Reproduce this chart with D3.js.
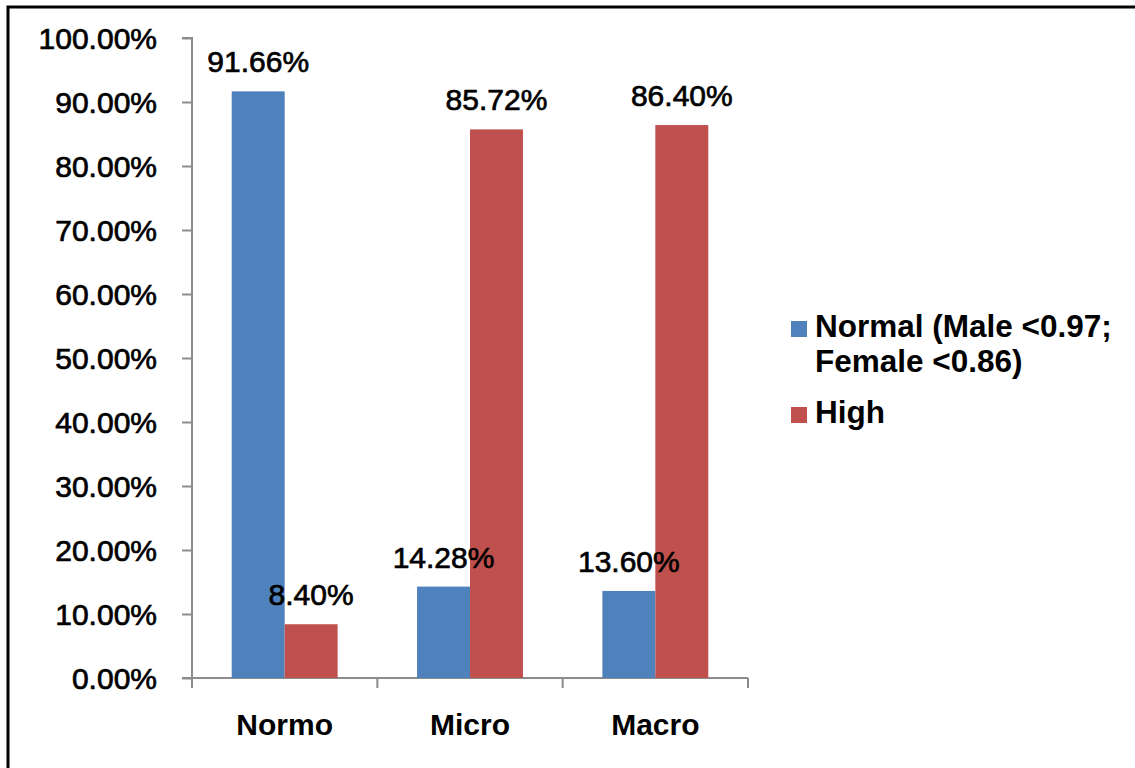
<!DOCTYPE html>
<html>
<head>
<meta charset="utf-8">
<script src="https://cdn.jsdelivr.net/npm/d3@7"></script>
<style>
  html, body { margin: 0; padding: 0; background: #fff; }
  svg { display: block; }
  text { font-family: "Liberation Sans", Arial, sans-serif; fill: #000; }
</style>
</head>
<body>
<svg id="chart" width="1135" height="768"></svg>
<script>
const categories = ["Normo", "Micro", "Macro"];
const seriesNames = ["Normal (Male <0.97; Female <0.86)", "High"];
const normalValues = [91.66, 14.28, 13.60];
const highValues = [8.40, 85.72, 86.40];
const tickValues = [0, 10, 20, 30, 40, 50, 60, 70, 80, 90, 100];
const legendLines = [["Normal (Male <0.97;", "Female <0.86)"], ["High"]];
const colors = ["#4F81BD", "#C0504D"];

const svg = d3.select("#chart");

// outer frame
svg.append("rect")
  .attr("x", 8).attr("y", 7)
  .attr("width", 1200).attr("height", 800)
  .attr("fill", "none").attr("stroke", "#000").attr("stroke-width", 3);

const plot = { left: 192, right: 748, top: 38, bottom: 678 };

const y = d3.scaleLinear().domain([0, 100]).range([plot.bottom, plot.top]);
const x0 = d3.scaleBand().domain(categories).range([plot.left, plot.right]).paddingInner(0).paddingOuter(0);
const x1 = d3.scaleBand().domain([0, 1]).range([0, x0.bandwidth()]).paddingOuter(0.75).paddingInner(0);

const axisColor = "#8c8c8c";

// y axis
const yAxis = d3.axisLeft(y).tickValues(tickValues).tickSize(10).tickPadding(25)
  .tickFormat(d => d.toFixed(2) + "%");
const gy = svg.append("g").attr("transform", `translate(${plot.left},0)`).call(yAxis);
gy.select(".domain").attr("stroke", axisColor).attr("stroke-width", 2).attr("d", `M-10,${plot.top}H0V${plot.bottom}`);
gy.selectAll(".tick line").attr("stroke", axisColor).attr("stroke-width", 2);
gy.selectAll(".tick text")
  .attr("font-family", "'Liberation Sans', Arial, sans-serif")
  .attr("font-size", 30).attr("fill", "#000")
  .attr("stroke", "#000").attr("stroke-width", 0.7)
  .attr("dy", "0.35em");

// x axis
const gx = svg.append("g").attr("transform", `translate(0,${plot.bottom})`);
gx.append("line").attr("x1", plot.left - 10).attr("x2", plot.right)
  .attr("stroke", axisColor).attr("stroke-width", 2);
const boundaries = categories.map(c => x0(c)).concat([plot.right]);
gx.selectAll("line.tk").data(boundaries).join("line").attr("class", "tk")
  .attr("x1", d => d).attr("x2", d => d).attr("y1", 0).attr("y2", 10)
  .attr("stroke", axisColor).attr("stroke-width", 2);
gx.selectAll("text.cat").data(categories).join("text").attr("class", "cat")
  .attr("x", d => x0(d) + x0.bandwidth() / 2).attr("y", 57)
  .attr("text-anchor", "middle").attr("font-size", 30).attr("font-weight", "bold")
  .text(d => d);

// bars
const series = [normalValues, highValues];
series.forEach((vals, si) => {
  const g = svg.append("g");
  g.selectAll("rect").data(vals).join("rect")
    .attr("x", (d, i) => x0(categories[i]) + x1(si))
    .attr("y", d => y(d))
    .attr("width", x1.bandwidth())
    .attr("height", d => y(0) - y(d))
    .attr("fill", colors[si]);
});

// value labels
series.forEach((vals, si) => {
  svg.append("g").selectAll("text").data(vals).join("text")
    .attr("x", (d, i) => x0(categories[i]) + x1(si) + x1.bandwidth() / 2)
    .attr("y", d => y(d) - 19)
    .attr("text-anchor", "middle").attr("font-size", 30)
    .attr("stroke", "#000").attr("stroke-width", 0.7)
    .text(d => d.toFixed(2) + "%");
});

// legend
const legend = svg.append("g").attr("transform", "translate(791,0)");
const legendY = [321, 407];
legendLines.forEach((lines, i) => {
  legend.append("rect").attr("x", 0).attr("y", legendY[i]).attr("width", 16).attr("height", 16)
    .attr("fill", colors[i]);
  lines.forEach((ln, j) => {
    legend.append("text").attr("x", 24).attr("y", legendY[i] + 16 + j * 35)
      .attr("font-size", 31.5).attr("font-weight", "bold").text(ln);
  });
});
</script>
</body>
</html>
